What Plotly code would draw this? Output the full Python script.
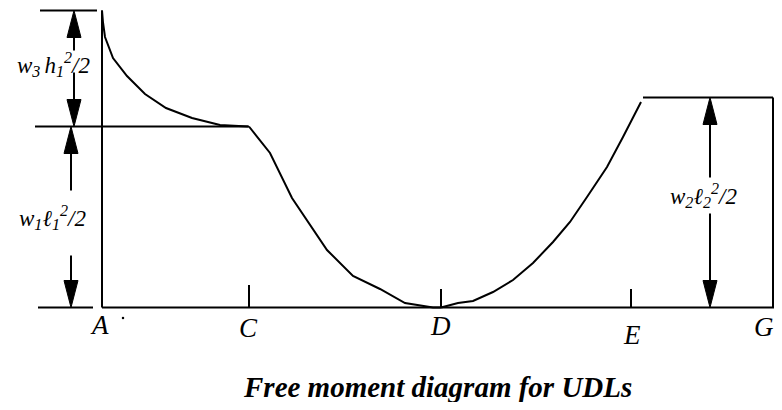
import plotly.graph_objects as go

# ---- data (diagram units: x = distance from A, M = moment above baseline) ----
station_names = ["A", "C", "D", "E", "G"]
station_x = [0, 147, 339, 529, 671]
M_A_top = 297          # w3 h1^2/2 + w1 l1^2/2 at A
M_C = 181              # w1 l1^2/2 level
M_right = 210          # w2 l2^2/2 plateau

# cantilever curve A -> C
curve_AC_x = [0, 1, 3, 11, 25, 43, 64, 90, 118, 146]
curve_AC_M = [297, 285, 270.5, 249.5, 231.5, 213.5, 199.5, 189.5, 182.5, 181]
# sagging parabola C -> D
curve_CD_x = [147, 168, 190, 225, 251, 278, 303, 331, 339]
curve_CD_M = [181, 154.5, 109.5, 57.5, 31.5, 18.5, 4.5, 0, 0]
# rising parabola D -> E -> plateau
curve_DE_x = [339, 356, 371, 391, 411, 431, 451, 468, 485, 505, 521, 539]
curve_DE_M = [0, 4.5, 6.5, 15.5, 27.5, 44.5, 65.5, 85.5, 110.5, 140.5, 170.5, 205.5]

dim_labels = ["w<sub>3 </sub>h<sub>1</sub><sup>2</sup>/2",
              "w<sub>1</sub>ℓ<sub>1</sub><sup>2</sup>/2",
              "w<sub>2</sub>ℓ<sub>2</sub><sup>2</sup>/2"]
dim_x = [-28, -31, 608]
dim_lo = [M_C, 0, 0]
dim_hi = [M_A_top, M_C, M_right]
dim_gap = [(257, 235), (117, 52), (130, 94)]
dim_label_pos = [(-49, 243), (-50, 90), (601, 112)]

label_y = [-17.5, -20, -18, -27, -19]
label_dx = [-3, -1, -1, 1, -9]

title = "Free moment diagram for UDLs"

LW = 2
BLACK = "#000"
FONT = "Liberation Serif, Times New Roman, serif"
OFF = 8  # page body margin compensation
W, H = 782 - 2 * OFF, 410 - 2 * OFF

fig = go.Figure()


def line(xs, ys, w=LW):
    fig.add_trace(go.Scatter(x=xs, y=ys, mode="lines",
                             line=dict(color=BLACK, width=w),
                             hoverinfo="skip", showlegend=False))


def head(x, tip, up):
    L, Hh = 27, 7
    base = tip - L if up else tip + L
    fig.add_trace(go.Scatter(x=[x - Hh, x + Hh, x, x - Hh], y=[base, base, tip, base],
                             mode="lines", fill="toself", fillcolor=BLACK,
                             line=dict(color=BLACK, width=1),
                             hoverinfo="skip", showlegend=False))


# curves
line(curve_AC_x, curve_AC_M)
line(curve_CD_x, curve_CD_M)
line(curve_DE_x, curve_DE_M)

# baseline and verticals
line([station_x[0], 690], [0, 0])
line([station_x[0], station_x[0]], [0, M_A_top])
line([station_x[-1], station_x[-1]], [0, M_right])
line([541, station_x[-1]], [M_right, M_right])
line([-67, station_x[1]], [M_C, M_C])
# extension lines for dimensions
line([-62, -5], [M_A_top, M_A_top])
line([-64, -9], [0, 0])

# ticks at C, D, E
for sx, th in zip(station_x[1:4], [22.5, 18.5, 18.5]):
    line([sx, sx], [0, th])

# dimension arrows
for x, lo, hi, (g1, g2) in zip(dim_x, dim_lo, dim_hi, dim_gap):
    head(x, hi, True)
    head(x, lo, False)
    line([x, x], [hi - 27, g1])
    line([x, x], [g2, lo + 27])

# dimension labels
for txt, (lx, ly) in zip(dim_labels, dim_label_pos):
    fig.add_annotation(x=lx, y=ly, text="<i>" + txt + "</i>",
                       showarrow=False, xref="x", yref="y",
                       font=dict(family=FONT, size=23, color=BLACK))

# station labels
for name, sx, ly, dx in zip(station_names, station_x, label_y, label_dx):
    fig.add_annotation(x=sx + dx, y=ly, text="<i>" + name + "</i>", showarrow=False,
                       xref="x", yref="y",
                       font=dict(family=FONT, size=27, color=BLACK))

# stray dot next to A
fig.add_trace(go.Scatter(x=[21], y=[-10.5], mode="markers",
                         marker=dict(color=BLACK, size=2.5),
                         hoverinfo="skip", showlegend=False))

fig.add_annotation(x=335, y=-79, text="<b><i>" + title + "</i></b>",
                   showarrow=False, xref="x", yref="y",
                   font=dict(family=FONT, size=29, color=BLACK))

fig.update_layout(
    width=W, height=H,
    margin=dict(l=0, r=0, t=0, b=0),
    paper_bgcolor="white", plot_bgcolor="white",
    xaxis=dict(range=[-102 + OFF, -102 + OFF + W], visible=False, fixedrange=True),
    yaxis=dict(range=[307.5 - OFF - H, 307.5 - OFF], visible=False, fixedrange=True),
)

fig.write_html("out.html")
